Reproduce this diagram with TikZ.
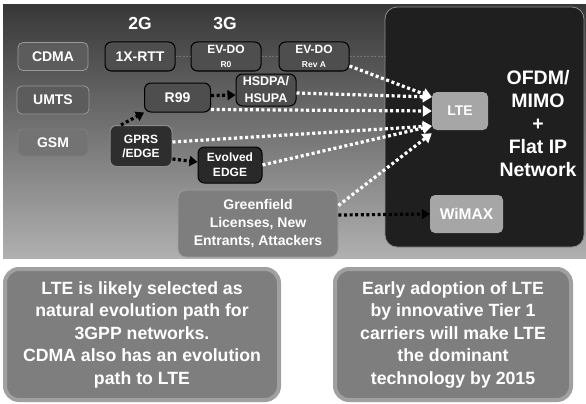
\documentclass[tikz,border=0pt]{standalone}
\usepackage{fontspec}
\setmainfont{Liberation Sans}
\usetikzlibrary{positioning, arrows.meta, calc}

\definecolor{paneltop}{HTML}{383838}
\definecolor{panelbot}{HTML}{B0B0B0}
\definecolor{techfill}{HTML}{4E4E4E}
\definecolor{netfill}{HTML}{5C5C5C}
\definecolor{lightbox}{HTML}{A6A6A6}
\definecolor{notefill}{HTML}{7E7E7E}
\definecolor{noteline}{HTML}{A0A0A0}

\newcommand{\fsz}[2]{\fontsize{#1}{#2}\selectfont\bfseries}

\begin{document}
\begin{tikzpicture}[x=1pt, y=-1pt, every node/.style={text=white, align=center, inner sep=0pt},
    net/.style={draw=black!40, line width=0.8pt, fill=netfill, rounded corners=5pt, minimum width=70pt, minimum height=28pt, font=\fsz{14}{16}},
    tech/.style={draw=black, line width=1pt, fill=techfill, rounded corners=6.5pt, minimum width=70pt, minimum height=29pt, font=\fsz{12}{14}},
    target/.style={fill=lightbox, rounded corners=5pt, minimum height=38pt, font=\fsz{14}{16}},
    note/.style={draw=noteline, line width=4pt, fill=notefill, rounded corners=14pt, minimum height=131pt, font=\fsz{17.7}{22.5}},
    whitearrow/.style={draw=white, line width=3.2pt, dash pattern=on 3pt off 2.6pt, -{Triangle[length=9pt,width=11pt]}},
    blackarrow/.style={draw=black, line width=3.2pt, dash pattern=on 3pt off 2.6pt, -{Triangle[length=8pt,width=10pt]}},
    thinlink/.style={draw=black!55, line width=0.6pt, dash pattern=on 2pt off 1.5pt}]
    \useasboundingbox (0,0) rectangle (586,404);
    \fill[top color=paneltop, bottom color=panelbot] (3,5) rectangle (586,258);

    \node[draw=black!45, line width=0.8pt, fill=black!88, rounded corners=12pt, minimum width=199pt, minimum height=240pt] (core) at (484.5,127) {};
    \node[font=\fsz{19.5}{23}] (ofdm) at (538,124) {OFDM/\\MIMO\\+\\Flat IP\\Network};

    \node[font=\fsz{17.5}{20}] (twog) at (140,23) {2G};
    \node[font=\fsz{17.5}{20}] (threeg) at (225,23) {3G};

    \node[net] (cdma) at (53,56.5) {CDMA};
    \node[net, minimum width=72pt] (umts) at (53,100) {UMTS};
    \node[net, draw=black!50, fill=black!55, minimum height=27pt] (gsm) at (53,142.5) {GSM};

    \node[tech, font=\fsz{14}{16}] (rtt) at (140,56.5) {1X-RTT};
    \node[tech] (evdo) at (226,56.5) {EV-DO\\{\fsz{8.5}{10}R0}};
    \node[tech] (evdoa) at (314,56.5) {EV-DO\\{\fsz{8.5}{10}Rev A}};
    \node[tech, font=\fsz{14}{16}, minimum width=66pt] (rnn) at (177.5,97.5) {R99};
    \node[tech, font=\fsz{12.5}{17}, minimum width=60pt, minimum height=32pt] (hsdpa) at (266,90) {HSDPA/\\HSUPA};
    \node[tech, draw=black!45, fill=black!82, minimum width=62pt, minimum height=41pt] (gprs) at (141,146) {GPRS\\/EDGE};
    \node[tech, fill=black!84, font=\fsz{12}{15}, minimum width=64pt, minimum height=36pt] (eedge) at (230,165) {Evolved\\EDGE};
    \node[net, draw=black!38, fill=notefill, rounded corners=8pt, font=\fsz{14}{18.3}, minimum width=160pt, minimum height=67pt] (green) at (258,223.5) {Greenfield\\Licenses, New\\Entrants, Attackers};

    \node[target, minimum width=56pt] (lte) at (460,111) {LTE};
    \node[target, font=\fsz{15.5}{17}, minimum width=73pt] (wimax) at (466.5,214) {WiMAX};

    \node[note, minimum width=274pt] (leftnote) at (142,334.5) {LTE is likely selected as\\natural evolution path for\\3GPP networks.\\CDMA also has an evolution\\path to LTE};
    \node[note, minimum width=236pt] (rightnote) at (453,334.5) {Early adoption of LTE\\by innovative Tier 1\\carriers will make LTE\\the dominant\\technology by 2015};

    % CDMA track
    \draw[thinlink] (rtt) -- (evdo);
    \draw[thinlink] (evdo) -- (evdoa);
    \draw[thinlink] (evdoa.east) -- (evdoa.east -| core.west);

    % 3GPP track
    \draw[blackarrow] ([xshift=-20pt]gprs.north) -- (rnn.south west);
    \draw[blackarrow] ([yshift=2pt]rnn.east) -- ([yshift=-5pt]hsdpa.west);
    \draw[blackarrow] ([yshift=-13pt]gprs.east) -- ([yshift=3pt]eedge.west);
    \draw[blackarrow] ([yshift=8.5pt]green.east) -- (wimax.west);

    % everything ends at LTE
    \draw[whitearrow] (evdoa.-15) -- ([yshift=14pt]lte.west);
    \draw[whitearrow] ([yshift=-3pt]hsdpa.east) -- ([yshift=14pt]lte.west);
    \draw[whitearrow] ([yshift=-12pt]rnn.east) -- (lte.west);
    \draw[whitearrow] ([yshift=4pt]gprs.east) -- ([yshift=-15pt]lte.west);
    \draw[whitearrow] (eedge.east) -- ([yshift=-15pt]lte.west);
    \draw[whitearrow] ([yshift=18pt]green.east) -- ([yshift=-3pt]lte.south west);
\end{tikzpicture}
\end{document}
